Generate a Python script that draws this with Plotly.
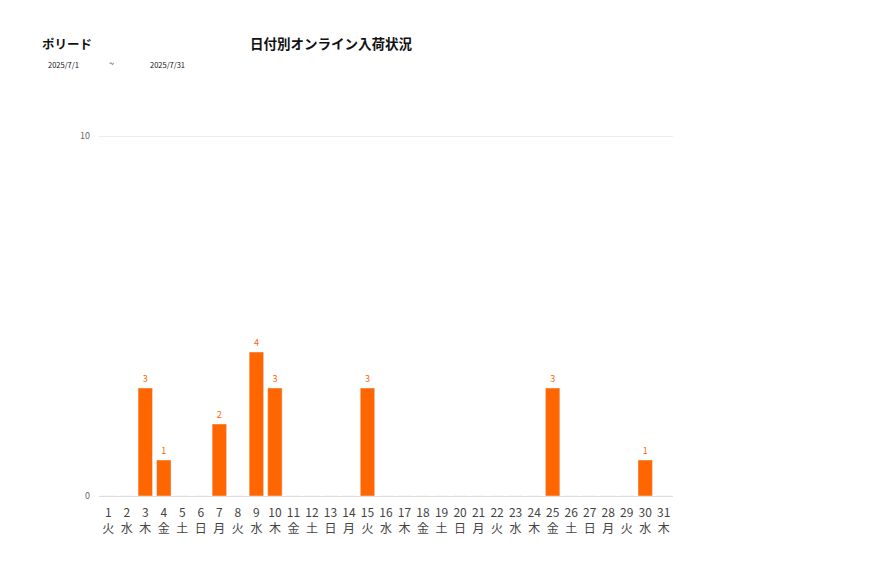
import plotly.graph_objects as go

# データ
days = [str(d) for d in range(1, 32)]
weekdays = ["火", "水", "木", "金", "土", "日", "月"]
day_labels = [f"{d}<br>{weekdays[(int(d) - 1) % 7]}" for d in days]
counts = [0, 0, 3, 1, 0, 0, 2, 0, 4, 3, 0, 0, 0, 0, 3, 0, 0, 0, 0, 0,
          0, 0, 0, 0, 3, 0, 0, 0, 0, 1, 0]
y_ticks = [0, 10]

font_jp = "Noto Sans CJK JP"
orange = "#ff6600"

fig = go.Figure()
fig.add_trace(go.Bar(
    x=days,
    y=counts,
    marker_color=orange,
    text=[str(c) if c > 0 else "" for c in counts],
    textposition="outside",
    textfont=dict(color=orange, size=9, family=font_jp),
    cliponaxis=False,
    width=0.78,
))

# ページの余白(約8px)を差し引いた余白
fig.update_layout(
    width=877, height=578,
    paper_bgcolor="white", plot_bgcolor="white",
    margin=dict(l=91, r=212, t=128, b=90),
    showlegend=False,
    font=dict(family=font_jp),
    xaxis=dict(
        tickmode="array", tickvals=days, ticktext=day_labels,
        tickfont=dict(size=12, color="#444444"),
        showgrid=False, showline=True, linecolor="#dddddd",
        ticks="", ticklabelstandoff=6, fixedrange=True,
    ),
    yaxis=dict(
        range=[0, 10], tickvals=y_ticks,
        tickfont=dict(size=9, color="#666666"),
        showgrid=False, zeroline=False, ticks="",
        ticklabelstandoff=8,
    ),
)

# 10 の目盛り線
fig.add_hline(y=10, line=dict(color="#e6e6e6", width=1.5))

# タイトル (x, y は参照画像のピクセル位置)
for txt, x, y, size, bold in [
    ("ポリード", 40, 42, 12.5, True),
    ("日付別オンライン入荷状況", 248, 42, 13.5, True),
    ("2025/7/1", 46, 63, 7.5, False),
    ("~", 107, 62, 9, False),
    ("2025/7/31", 148, 63, 7.5, False),
]:
    fig.add_annotation(
        text=f"<b>{txt}</b>" if bold else txt,
        x=(x - 99) / 574, y=(495 - y) / 360, xref="paper", yref="paper",
        xanchor="left", yanchor="middle", showarrow=False,
        font=dict(size=size, color="#111111", family=font_jp),
    )

fig.write_html("out.html")
